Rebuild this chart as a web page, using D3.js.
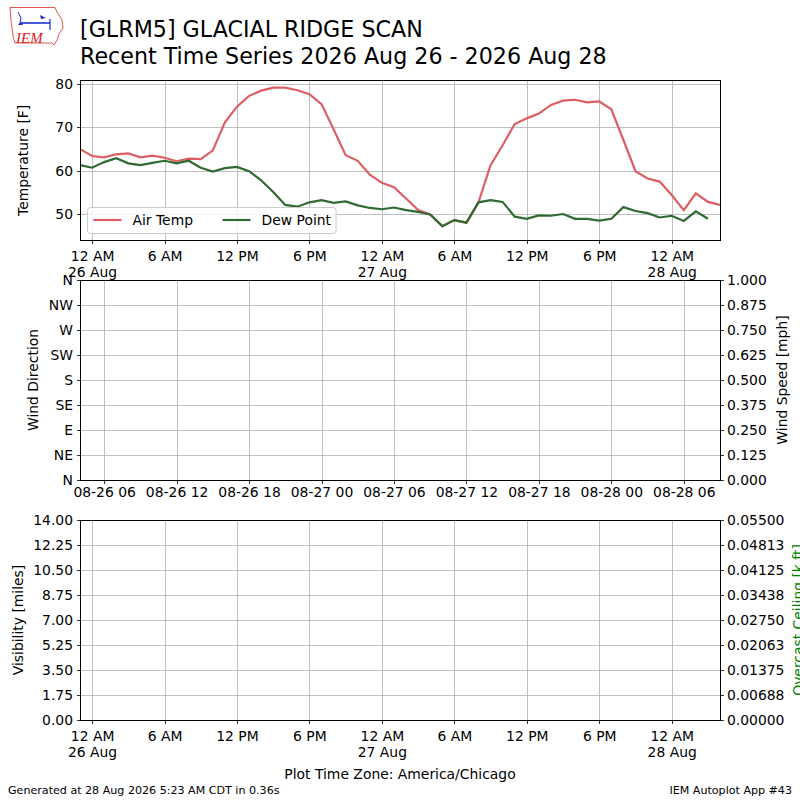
<!DOCTYPE html>
<html>
<head>
<meta charset="utf-8">
<script src="https://cdn.jsdelivr.net/npm/d3@7"></script>
<style>
  body { margin: 0; background: #fff; }
  svg { font-family: "DejaVu Sans", sans-serif; }
  .grid line { stroke: #b0b0b0; stroke-width: 0.8; shape-rendering: crispEdges; }
  .grid path { display: none; }
  .ax path, .ax line { stroke: #000; stroke-width: 0.8; shape-rendering: crispEdges; }
  .ax text { font-size: 13.9px; fill: #000; font-family: "DejaVu Sans", sans-serif; }
</style>
</head>
<body>
<svg id="chart" width="800" height="800"></svg>
<script>
// hourly observations (local time, America/Chicago)
const obsTimes = [
  "2026-08-25 23:00",
  "2026-08-26 00:00", "2026-08-26 01:00", "2026-08-26 02:00", "2026-08-26 03:00",
  "2026-08-26 04:00", "2026-08-26 05:00", "2026-08-26 06:00", "2026-08-26 07:00",
  "2026-08-26 08:00", "2026-08-26 09:00", "2026-08-26 10:00", "2026-08-26 11:00",
  "2026-08-26 12:00", "2026-08-26 13:00", "2026-08-26 14:00", "2026-08-26 15:00",
  "2026-08-26 16:00", "2026-08-26 17:00", "2026-08-26 18:00", "2026-08-26 19:00",
  "2026-08-26 20:00", "2026-08-26 21:00", "2026-08-26 22:00", "2026-08-26 23:00",
  "2026-08-27 00:00", "2026-08-27 01:00", "2026-08-27 02:00", "2026-08-27 03:00",
  "2026-08-27 04:00", "2026-08-27 05:00", "2026-08-27 06:00", "2026-08-27 07:00",
  "2026-08-27 08:00", "2026-08-27 09:00", "2026-08-27 10:00", "2026-08-27 11:00",
  "2026-08-27 12:00", "2026-08-27 13:00", "2026-08-27 14:00", "2026-08-27 15:00",
  "2026-08-27 16:00", "2026-08-27 17:00", "2026-08-27 18:00", "2026-08-27 19:00",
  "2026-08-27 20:00", "2026-08-27 21:00", "2026-08-27 22:00", "2026-08-27 23:00",
  "2026-08-28 00:00", "2026-08-28 01:00", "2026-08-28 02:00", "2026-08-28 03:00",
  "2026-08-28 04:00"
];

const airTemp = [
  65.0, 63.4, 63.1, 63.8, 64.0, 63.1, 63.5, 63.0, 62.2, 62.8, 62.7,
  64.7, 71.2, 74.8, 77.3, 78.5, 79.2, 79.2, 78.6, 77.7, 75.4,
  69.6, 63.6, 62.3, 59.1, 57.2, 56.2, 53.6, 50.9, 49.9, 47.2,
  48.6, 48.0, 52.7, 61.3, 65.9, 70.8, 72.1, 73.2, 75.2, 76.2,
  76.4, 75.8, 76.0, 74.2, 67.1, 59.9, 58.2, 57.5, 54.4, 50.9,
  54.8, 52.8, 52.1
];

const dewPoint = [
  61.3, 60.7, 62.0, 62.9, 61.7, 61.3, 61.8, 62.3, 61.7, 62.3, 60.7,
  59.8, 60.6, 60.9, 59.9, 57.8, 55.1, 52.1, 51.7, 52.7, 53.2,
  52.6, 52.9, 52.0, 51.4, 51.1, 51.5, 50.9, 50.5, 49.9, 47.2,
  48.6, 48.0, 52.7, 53.2, 52.8, 49.4, 48.9, 49.7, 49.6, 50.0,
  48.9, 48.9, 48.5, 48.9, 51.6, 50.7, 50.2, 49.2, 49.6, 48.4,
  50.6, 48.9
];

const localTicks = [
  "2026-08-26 00:00", "2026-08-26 06:00", "2026-08-26 12:00", "2026-08-26 18:00",
  "2026-08-27 00:00", "2026-08-27 06:00", "2026-08-27 12:00", "2026-08-27 18:00",
  "2026-08-28 00:00"
];
// middle panel is labelled in UTC (CDT + 5h)
const utcTicks = [
  "2026-08-26 01:00", "2026-08-26 07:00", "2026-08-26 13:00", "2026-08-26 19:00",
  "2026-08-27 01:00", "2026-08-27 07:00", "2026-08-27 13:00", "2026-08-27 19:00",
  "2026-08-28 01:00"
];

const tempTicks = [50, 60, 70, 80];
const dirTicks = [0, 45, 90, 135, 180, 225, 270, 315, 360];
const dirLabels = ["N", "NE", "E", "SE", "S", "SW", "W", "NW", "N"];
const speedTicks = [0, 0.125, 0.25, 0.375, 0.5, 0.625, 0.75, 0.875, 1.0];
const visTicks = [0, 1.75, 3.5, 5.25, 7, 8.75, 10.5, 12.25, 14];
const ceilTicks = [0, 0.006875, 0.01375, 0.020625, 0.0275, 0.034375, 0.04125, 0.048125, 0.055];

const parseTime = d3.timeParse("%Y-%m-%d %H:%M");
const times = obsTimes.map(parseTime);

const svg = d3.select("#chart");
const L = 80, R = 720;
const FS = 13.9;
const x = d3.scaleTime()
  .domain([times[0], times[times.length - 1]])
  .range([L, R]);

function localLabel(d) {
  const h = d.getHours();
  let s;
  if (h == 0) s = "12 AM";
  else if (h == 12) s = "12 PM";
  else if (h < 12) s = h + " AM";
  else s = (h - 12) + " PM";
  return s;
}

// draws grid and a two-line local time axis
function timeAxis(g, top, bottom) {
  g.append("g").attr("class", "grid")
    .attr("transform", `translate(0,${bottom})`)
    .call(d3.axisBottom(x).tickValues(localTicks.map(parseTime))
      .tickSize(-(bottom - top)).tickFormat(""));
  const ax = g.append("g").attr("class", "ax")
    .attr("transform", `translate(0,${bottom})`)
    .call(d3.axisBottom(x).tickValues(localTicks.map(parseTime))
      .tickSizeInner(3.5).tickSizeOuter(0).tickPadding(3.5).tickFormat(""));
  ax.select(".domain").remove();
  ax.selectAll(".tick").each(function (d) {
    const t = d3.select(this).append("text")
      .attr("text-anchor", "middle").attr("fill", "#000");
    t.append("tspan").attr("x", 0).attr("y", 20.5).text(localLabel(d));
    if (d.getHours() == 0) {
      t.append("tspan").attr("x", 0).attr("y", 37).text(d3.timeFormat("%-d %b")(d));
    }
  });
}

function hGrid(g, y, ticks) {
  g.append("g").attr("class", "grid")
    .attr("transform", `translate(${L},0)`)
    .call(d3.axisLeft(y).tickValues(ticks).tickSize(-(R - L)).tickFormat(""));
}

function frame(top, bottom) {
  svg.append("rect")
    .attr("x", L).attr("y", top).attr("width", R - L).attr("height", bottom - top)
    .attr("fill", "none").attr("stroke", "#000").attr("stroke-width", 1)
    .attr("shape-rendering", "crispEdges");
}

function yLabel(text, xPos, yMid, color) {
  svg.append("text")
    .attr("transform", `translate(${xPos},${yMid}) rotate(-90)`)
    .attr("text-anchor", "middle")
    .attr("font-size", FS)
    .attr("fill", color || "#000")
    .text(text);
}

// ---------- panel 1: temperature ----------
const p1Top = 80.7, p1Bot = 240;
const yTemp = d3.scaleLinear().domain([44, 80.8]).range([p1Bot, p1Top]);
const p1 = svg.append("g");
hGrid(p1, yTemp, tempTicks);
timeAxis(p1, p1Top, p1Bot);
p1.append("g").attr("class", "ax")
  .attr("transform", `translate(${L},0)`)
  .call(d3.axisLeft(yTemp).tickValues(tempTicks).tickSizeOuter(0).tickSize(3.5).tickPadding(3.5))
  .select(".domain").remove();

svg.append("clipPath").attr("id", "clip1")
  .append("rect").attr("x", L).attr("y", p1Top).attr("width", R - L).attr("height", p1Bot - p1Top);

const line = d3.line()
  .defined((d) => d[1] != null)
  .x((d) => x(d[0]))
  .y((d) => yTemp(d[1]));

p1.append("path")
  .datum(airTemp.map((v, i) => [times[i], v]))
  .attr("d", line)
  .attr("fill", "none").attr("stroke", "#dd5e64").attr("stroke-width", 2.2)
  .attr("clip-path", "url(#clip1)");
p1.append("path")
  .datum(dewPoint.map((v, i) => [times[i], v]))
  .attr("d", line)
  .attr("fill", "none").attr("stroke", "#2e6a31").attr("stroke-width", 2.2)
  .attr("clip-path", "url(#clip1)");
frame(p1Top, p1Bot);
yLabel("Temperature [F]", 28, (p1Top + p1Bot) / 2);

// legend
const leg = p1.append("g").attr("transform", "translate(87.5,207.5)");
leg.append("rect").attr("width", 248.5).attr("height", 26).attr("rx", 3)
  .attr("fill", "#fff").attr("fill-opacity", 0.8)
  .attr("stroke", "#cccccc").attr("stroke-width", 1);
const legItems = [["Air Temp", "#dd5e64", 5], ["Dew Point", "#2e6a31", 134]];
legItems.forEach(([name, color, off]) => {
  leg.append("line").attr("x1", off + 1).attr("x2", off + 29)
    .attr("y1", 12.5).attr("y2", 12.5)
    .attr("stroke", color).attr("stroke-width", 2.2);
  leg.append("text").attr("x", off + 40).attr("y", 17.5).attr("font-size", FS).text(name);
});

// ---------- panel 2: wind ----------
const p2Top = 280, p2Bot = 480;
const yDir = d3.scaleLinear().domain([0, 360]).range([p2Bot, p2Top]);
const ySpeed = d3.scaleLinear().domain([0, 1]).range([p2Bot, p2Top]);
const p2 = svg.append("g");
hGrid(p2, yDir, dirTicks);
p2.append("g").attr("class", "grid")
  .attr("transform", `translate(0,${p2Bot})`)
  .call(d3.axisBottom(x).tickValues(utcTicks.map(parseTime))
    .tickSize(-(p2Bot - p2Top)).tickFormat(""));
const utcFmt = d3.timeFormat("%m-%d %H");
p2.append("g").attr("class", "ax")
  .attr("transform", `translate(0,${p2Bot})`)
  .call(d3.axisBottom(x).tickValues(utcTicks.map(parseTime))
    .tickSizeOuter(0).tickSize(3.5).tickPadding(3.5)
    .tickFormat((d) => utcFmt(d3.timeHour.offset(d, 5))))
  .select(".domain").remove();
p2.append("g").attr("class", "ax")
  .attr("transform", `translate(${L},0)`)
  .call(d3.axisLeft(yDir).tickValues(dirTicks).tickSizeOuter(0).tickSize(3.5).tickPadding(3.5)
    .tickFormat((d, i) => dirLabels[i]))
  .select(".domain").remove();
p2.append("g").attr("class", "ax")
  .attr("transform", `translate(${R},0)`)
  .call(d3.axisRight(ySpeed).tickValues(speedTicks).tickSizeOuter(0).tickSize(3.5).tickPadding(3.5)
    .tickFormat(d3.format(".3f")))
  .select(".domain").remove();
frame(p2Top, p2Bot);
yLabel("Wind Direction", 38, (p2Top + p2Bot) / 2);
yLabel("Wind Speed [mph]", 787, (p2Top + p2Bot) / 2);

// ---------- panel 3: visibility / ceiling ----------
const p3Top = 520, p3Bot = 720;
const yVis = d3.scaleLinear().domain([0, 14]).range([p3Bot, p3Top]);
const yCeil = d3.scaleLinear().domain([0, 0.055]).range([p3Bot, p3Top]);
const p3 = svg.append("g");
hGrid(p3, yVis, visTicks);
timeAxis(p3, p3Top, p3Bot);
p3.append("g").attr("class", "ax")
  .attr("transform", `translate(${L},0)`)
  .call(d3.axisLeft(yVis).tickValues(visTicks).tickSizeOuter(0).tickSize(3.5).tickPadding(3.5)
    .tickFormat(d3.format(".2f")))
  .select(".domain").remove();
p3.append("g").attr("class", "ax")
  .attr("transform", `translate(${R},0)`)
  .call(d3.axisRight(yCeil).tickValues(ceilTicks).tickSizeOuter(0).tickSize(3.5).tickPadding(3.5)
    .tickFormat(d3.format(".5f")))
  .select(".domain").remove();
frame(p3Top, p3Bot);
yLabel("Visibility [miles]", 22.5, (p3Top + p3Bot) / 2);
// the reference clips this label at the right edge of the image
yLabel("Overcast Ceiling [k ft]", 803, (p3Top + p3Bot) / 2, "#008000");

svg.append("text").attr("x", 400).attr("y", 779).attr("text-anchor", "middle")
  .attr("font-size", FS).text("Plot Time Zone: America/Chicago");

// ---------- titles & footer ----------
svg.append("text").attr("x", 80).attr("y", 37).attr("font-size", 22.2)
  .text("[GLRM5] GLACIAL RIDGE SCAN");
svg.append("text").attr("x", 80).attr("y", 64).attr("font-size", 22.2)
  .text("Recent Time Series 2026 Aug 26 - 2026 Aug 28");
svg.append("text").attr("x", 8).attr("y", 794).attr("font-size", 11.1)
  .text("Generated at 28 Aug 2026 5:23 AM CDT in 0.36s");
svg.append("text").attr("x", 792).attr("y", 794).attr("font-size", 11.1)
  .attr("text-anchor", "end").text("IEM Autoplot App #43");

// ---------- IEM logo (rough) ----------
const logo = svg.append("g");
logo.append("path")
  .attr("d", "M10,7.5 L55,7.5 L57,12 L62,20 L63,28 L59,34 L57,40 L54,45 L52,43 L15,43 L13,36 L12,28 L11,20 Z")
  .attr("fill", "none").attr("stroke", "#dd4444").attr("stroke-width", 0.9);
logo.append("line").attr("x1", 22).attr("x2", 50).attr("y1", 23).attr("y2", 23)
  .attr("stroke", "#1a2fd0").attr("stroke-width", 1.6);
logo.append("path").attr("d", "M18,12 L21,18 L20,22").attr("fill", "none")
  .attr("stroke", "#1a2fd0").attr("stroke-width", 1);
logo.append("path").attr("d", "M18,25 L21,21 L23,25 Z").attr("fill", "#1a2fd0");
logo.append("path").attr("d", "M40,15 L46,18 L41,19 Z").attr("fill", "#1a2fd0");
logo.append("line").attr("x1", 50).attr("x2", 50).attr("y1", 19).attr("y2", 30)
  .attr("stroke", "#1a2fd0").attr("stroke-width", 1.2);
logo.append("text").attr("x", 16).attr("y", 43)
  .attr("font-family", "Liberation Serif").attr("font-style", "italic")
  .attr("font-size", 15).attr("fill", "#dd2222").text("IEM");
</script>
</body>
</html>
